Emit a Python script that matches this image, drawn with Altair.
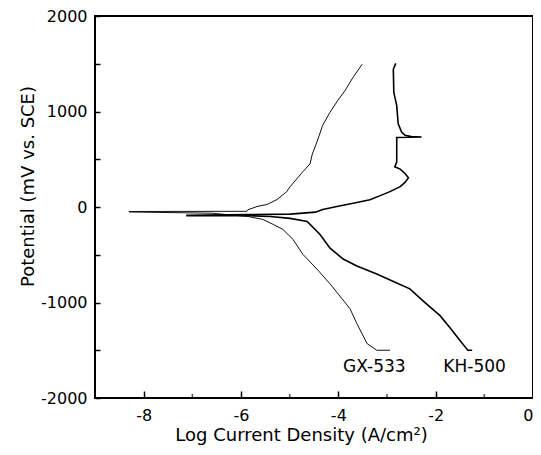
import altair as alt
import pandas as pd

# ---- data ----
gx_x = [-2.94, -3.21, -3.41, -3.62, -3.76, -4.17, -4.44, -4.73, -4.93, -5.14, -5.34, -5.55,
        -5.86, -6.60, -8.30, -8.30, -5.88, -5.86, -5.67, -5.47, -5.26, -5.06, -4.99, -4.73,
        -4.58, -4.54, -4.44, -4.32, -4.17, -4.01, -3.86, -3.70, -3.51]
gx_y = [-1500, -1500, -1430, -1220, -1065, -805, -650, -495, -340, -234, -182, -130,
        -99, -65, -52, -47, -45, -29, 5, 26, 78, 161, 213, 369,
        452, 545, 681, 857, 992, 1117, 1221, 1356, 1495]

kh_x = [-1.25, -1.34, -1.50, -1.71, -1.91, -2.26, -2.53, -2.80, -3.21, -3.62, -3.90, -4.17,
        -4.38, -4.64, -4.99, -5.40, -5.86, -7.11, -7.11, -5.88, -4.99, -4.47, -4.32, -4.03,
        -3.62, -3.35, -3.14, -2.94, -2.73, -2.63, -2.56, -2.63, -2.73, -2.84, -2.80, -2.80,
        -2.29, -2.50, -2.63, -2.70, -2.77, -2.80, -2.86, -2.87, -2.82]
kh_y = [-1500, -1500, -1398, -1262, -1138, -982, -857, -795, -701, -618, -545, -431,
        -286, -151, -119, -100, -92, -90, -86, -80, -75, -54, -26, 5,
        47, 75, 119, 161, 213, 258, 306, 351, 397, 421, 473, 728,
        733, 738, 750, 784, 871, 1062, 1200, 1442, 1504]

series_names = ["GX-533", "KH-500"]
label_x = [-3.26, -1.20]
label_y = [-1673, -1673]

x_major = [-8, -6, -4, -2, 0]
x_minor = [-7, -5, -3, -1]
y_ticks = [-2000, -1500, -1000, -500, 0, 500, 1000, 1500, 2000]

# ---- tables ----
rows = []
for name, xs, ys in [("GX-533", gx_x, gx_y), ("KH-500", kh_x, kh_y)]:
    for i, (x, y) in enumerate(zip(xs, ys)):
        rows.append({"series": name, "i": i, "x": x, "y": y})
df = pd.DataFrame(rows)
labels_df = pd.DataFrame({"x": label_x, "y": label_y, "text": series_names})
minor_df = pd.DataFrame({"x": x_minor, "y": [-2000] * len(x_minor)})

FONT = "DejaVu Sans"
xscale = alt.Scale(domain=[-9, 0], nice=False, zero=False)
yscale = alt.Scale(domain=[-2000, 2000], nice=False, zero=False)

xaxis = alt.Axis(
    values=x_major, tickSize=7, offset=-7, domain=False, grid=False,
    tickColor="black", tickWidth=1.5,
    labelExpr="'' + datum.value", labelFont=FONT, labelFontSize=16,
    labelColor="black", labelPadding=9,
    title="Log Current Density (A/cm²)", titleFont=FONT, titleFontSize=18,
    titleFontWeight="normal", titleColor="black",
    titleX=206, titleY=44, titleBaseline="middle",
)
yaxis = alt.Axis(
    values=y_ticks, tickSize=5, offset=-5, domain=False, grid=False,
    tickColor="black", tickWidth=1.5,
    labelExpr="datum.value % 1000 === 0 ? '' + datum.value : ''",
    labelFont=FONT, labelFontSize=16, labelColor="black", labelPadding=8,
    title="Potential (mV vs. SCE)", titleFont=FONT, titleFontSize=18,
    titleFontWeight="normal", titleColor="black",
    titleX=-72, titleY=170, titleBaseline="middle",
)

X = alt.X("x:Q", scale=xscale, axis=xaxis)
Y = alt.Y("y:Q", scale=yscale, axis=yaxis)

lines = alt.Chart(df).mark_line(interpolate="linear").encode(
    x=X, y=Y,
    detail="series:N",
    color=alt.Color("series:N", scale=alt.Scale(domain=series_names, range=["#111111", "#000000"]), legend=None),
    strokeWidth=alt.StrokeWidth("series:N", scale=alt.Scale(domain=series_names, range=[1.0, 1.6]), legend=None),
    order="i:Q",
)

texts = alt.Chart(labels_df).mark_text(
    font=FONT, fontSize=17, align="center", baseline="middle", color="black"
).encode(x=X, y=Y, text="text:N")

minor = alt.Chart(minor_df).mark_tick(
    orient="vertical", size=8, thickness=1.5, color="black", clip=True
).encode(x=X, y=Y)

chart = alt.layer(lines, texts, minor).properties(
    width=438, height=382,
    autosize=alt.AutoSizeParams(type="none"),
    padding={"left": 87, "top": 8, "right": 0, "bottom": 49},
    background="white",
).configure_view(stroke="black", strokeWidth=2)

chart.save("out.html", embed_options={"renderer": "svg", "actions": False})
